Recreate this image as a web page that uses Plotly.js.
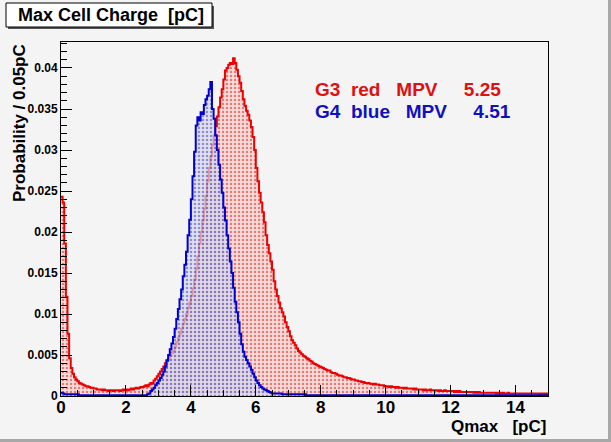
<!DOCTYPE html>
<html>
<head>
<meta charset="utf-8">
<script src="https://cdn.plot.ly/plotly-3.0.1.min.js"></script>
<style>
html,body{margin:0;padding:0;background:#f4f4f4;}
#plot{width:611px;height:442px;}
</style>
</head>
<body>
<div id="plot"></div>
<script>
// Histogram bin width (pC)
const binWidth = 0.05;

// G3 (red) probability per 0.05 pC bin, bins starting at 0
const g3Red = [
.0243,.0236,.0186,.0121,.0076,.0046,.0034,.0027,.0023,.0020,
.0018,.0016,.0015,.0014,.0013,.0012,.0012,.0011,.0010,.0010,
.0009,.0009,.0008,.0008,.0008,.0007,.0008,.0007,.0007,.0006,
.0007,.0007,.0006,.0007,.0007,.0007,.0006,.0007,.0008,.0007,
.0008,.0007,.0008,.0009,.0008,.0009,.0010,.0009,.0010,.0011,
.0011,.0012,.0013,.0012,.0014,.0016,.0015,.0019,.0021,.0024,
.0027,.0030,.0033,.0036,.0040,.0044,.0046,.0049,.0052,.0055,
.0060,.0066,.0071,.0076,.0082,.0088,.0094,.0100,.0107,.0114,
.0122,.0131,.0142,.0155,.0170,.0186,.0200,.0214,.0228,.0244,
.0262,.0278,.0292,.0306,.0318,.0329,.0341,.0352,.0364,.0374,
.0386,.0397,.0400,.0404,.0406,.0405,.0412,.0406,.0398,.0390,
.0382,.0372,.0362,.0354,.0348,.0343,.0336,.0328,.0316,.0300,
.0278,.0262,.0248,.0236,.0224,.0212,.0196,.0184,.0174,.0164,
.0154,.0140,.0130,.0122,.0114,.0107,.0102,.0097,.0090,.0084,
.0079,.0073,.0068,.0065,.0062,.0058,.0055,.0053,.0051,.0049,
.0048,.0046,.0045,.0043,.0042,.0040,.0039,.0038,.0037,.0036,
.0035,.0034,.0033,.0032,.0031,.0031,.0029,.0028,.0028,.0027,
.0026,.0025,.0025,.0024,.0023,.0023,.0022,.0022,.0021,.0020,
.0020,.0019,.0019,.0018,.0018,.0017,.0017,.0016,.0016,.0016,
.0015,.0015,.0014,.0015,.0014,.0014,.0013,.0013,.0013,.0012,
.0012,.0012,.0011,.0012,.0011,.0011,.0010,.0011,.0010,.0010,
.0010,.0009,.0010,.0009,.0009,.0009,.0009,.0008,.0009,.0008,
.0008,.0008,.0008,.0007,.0008,.0007,.0007,.0008,.0007,.0007,
.0007,.0007,.0006,.0007,.0006,.0006,.0007,.0006,.0006,.0006,
.0006,.0006,.0005,.0006,.0005,.0006,.0005,.0005,.0005,.0005,
.0005,.0005,.0005,.0005,.0004,.0005,.0004,.0005,.0004,.0004,
.0004,.0004,.0004,.0004,.0004,.0004,.0004,.0004,.0003,.0004,
.0004,.0003,.0004,.0003,.0003,.0004,.0003,.0003,.0003,.0003,
.0003,.0003,.0003,.0003,.0003,.0003,.0003,.0003,.0003,.0003,
.0003,.0003,.0003,.0003,.0003,.0002,.0003,.0003,.0002,.0003
];

// G4 (blue) probability per 0.05 pC bin, bins starting at 0
const g4Blue = [
.0004,.0003,.0002,.0002,.0002,.0002,.0002,.0002,.0002,.0002,
.0002,.0001,.0001,.0001,.0001,.0001,.0001,.0001,.0001,.0001,
.0001,.0001,.0001,.0001,.0001,.0001,.0001,.0001,.0001,.0001,
.0001,.0001,.0001,.0001,.0001,.0001,.0001,.0001,.0001,.0001,
.0001,.0001,.0001,.0001,.0001,.0001,.0001,.0001,.0001,.0001,
.0001,.0001,.0001,.0002,.0003,.0006,.0008,.0010,.0013,.0016,
.0019,.0022,.0026,.0030,.0036,.0043,.0050,.0057,.0064,.0072,
.0082,.0094,.0106,.0118,.0130,.0146,.0160,.0176,.0196,.0215,
.0240,.0268,.0298,.0330,.0340,.0336,.0346,.0344,.0355,.0362,
.0366,.0374,.0383,.0350,.0338,.0318,.0300,.0282,.0264,.0248,
.0230,.0214,.0196,.0180,.0164,.0150,.0132,.0115,.0102,.0090,
.0076,.0063,.0054,.0048,.0044,.0040,.0036,.0032,.0027,.0023,
.0019,.0016,.0013,.0011,.0009,.0008,.0007,.0006,.0005,.0004,
.0003,.0003,.0003,.0003,.0003,.0003,.0002,.0002,.0002,.0002,
.0002,.0002,.0002,.0002,.0002,.0002,.0002,.0002,.0002,.0002,
.0002,.0001,.0001,.0001,.0001,.0001,.0001,.0001,.0001,.0001,
.0001,.0001,.0001,.0001,.0001,.0001,.0001,.0001,.0001,.0001,
.0001,.0001,.0001,.0001,.0001,.0001,.0001,.0001,.0001,.0001,
.0001,.0001,.0001,.0001,.0001,.0001,.0001,.0001,.0001,.0001,
.0001,.0001,.0001,.0001,.0001,.0001,.0001,.0001,.0001,.0001,
.0001,.0001,.0001,.0001,.0001,.0001,.0001,.0001,.0001,.0001,
.0001,.0001,.0001,.0001,.0001,.0001,.0001,.0001,.0001,.0001,
.0001,.0001,.0001,.0001,.0001,.0001,.0001,.0001,.0001,.0001,
.0001,.0001,.0001,.0001,.0001,.0001,.0001,.0001,.0001,.0001,
.0001,.0001,.0001,.0001,.0001,.0001,.0001,.0001,.0001,.0001,
.0001,.0001,.0001,.0001,.0001,.0001,.0001,.0001,.0001,.0001,
.0001,.0001,.0001,.0001,.0001,.0001,.0001,.0001,.0001,.0001,
.0001,.0001,.0001,.0001,.0001,.0001,.0001,.0001,.0001,.0001,
.0001,.0001,.0001,.0001,.0001,.0001,.0001,.0001,.0001,.0001,
.0001,.0001,.0001,.0001,.0001,.0001,.0001,.0001,.0001,.0001
];

const NB = "\u00a0";
const titleText = "Max Cell Charge" + NB + NB + "[pC]";
const xTitleText = "Qmax" + NB + NB + NB + "[pC]";
const yTitleText = "Probability / 0.05pC";
const legendLines = [
  "G3" + NB + NB + "red" + NB + NB + NB + "MPV" + NB.repeat(5) + "5.25",
  "G4" + NB + NB + "blue" + NB + NB + NB + "MPV" + NB.repeat(5) + "4.51"
];

function stepXY(vals){
  const x = vals.map((_, i) => +(i*binWidth).toFixed(4));
  const y = vals.slice();
  x.push(+(vals.length*binWidth).toFixed(4));
  y.push(vals[vals.length-1]);
  return {x, y};
}

const r = stepXY(g3Red), b = stepXY(g4Blue);
const FONT = "Liberation Sans, Arial, Helvetica, sans-serif";

const traces = [
 {x:r.x, y:r.y, type:'scatter', mode:'lines', line:{shape:'hv', color:'#ee0000', width:2},
  fill:'tozeroy', fillcolor:'rgba(245,190,190,0.6)',
  fillpattern:{shape:'.', fgcolor:'rgba(215,40,40,0.55)', bgcolor:'rgba(246,205,200,0.6)', size:4, solidity:0.3},
  hoverinfo:'skip', showlegend:false},
 {x:b.x, y:b.y, type:'scatter', mode:'lines', line:{shape:'hv', color:'#0000d0', width:2},
  fill:'tozeroy', fillcolor:'rgba(210,210,235,0.65)',
  fillpattern:{shape:'.', fgcolor:'rgba(40,40,170,0.45)', bgcolor:'rgba(215,215,236,0.7)', size:4, solidity:0.3},
  hoverinfo:'skip', showlegend:false}
];

// pixel helpers for paper coordinates
const L=61, R=548, T=42, B=396;
const px = v => (v-L)/(R-L);
const py = v => (B-v)/(B-T);

const layout = {
  width:611, height:442,
  margin:{l:L, r:611-R, t:T, b:442-B, pad:0},
  paper_bgcolor:'#f4f4f4', plot_bgcolor:'#f4f4f4',
  showlegend:false,
  xaxis:{range:[0,15], autorange:false, dtick:2, tick0:0, ticks:'inside', ticklen:11, tickcolor:'#000', tickwidth:1,
    ticklabelstandoff:-4,
    minor:{dtick:0.5, ticks:'inside', ticklen:6, tickcolor:'#000', tickwidth:1},
    showline:true, linecolor:'#000', linewidth:1, mirror:true, showgrid:false, zeroline:false,
    tickfont:{family:FONT, size:17, color:'#000', weight:'bold'}},
  yaxis:{range:[0,0.04317], autorange:false, dtick:0.005, tick0:0, ticks:'inside', ticklen:11, tickcolor:'#000', tickwidth:1,
    minor:{dtick:0.001, ticks:'inside', ticklen:6, tickcolor:'#000', tickwidth:1},
    showline:true, linecolor:'#000', linewidth:1, mirror:true, showgrid:false, zeroline:false,
    tickfont:{family:FONT, size:12, color:'#000', weight:'bold'}},
  shapes:[
    {type:'rect', xref:'paper', yref:'paper', x0:px(8), x1:px(214), y0:py(6), y1:py(29), fillcolor:'#555', line:{width:0}, layer:'above'},
    {type:'rect', xref:'paper', yref:'paper', x0:px(6), x1:px(212), y0:py(3), y1:py(27), fillcolor:'#ffffff', line:{color:'#000', width:1}, layer:'above'},
    {type:'rect', xref:'paper', yref:'paper', x0:px(608), x1:px(611), y0:py(0), y1:py(442), fillcolor:'#a8a8a8', line:{width:0}},
    {type:'rect', xref:'paper', yref:'paper', x0:px(0), x1:px(611), y0:py(439), y1:py(442), fillcolor:'#a8a8a8', line:{width:0}}
  ],
  annotations:[
    {text:titleText, xref:'paper', yref:'paper', x:px(16), y:py(15), xanchor:'left', yanchor:'middle', showarrow:false,
     font:{family:FONT, size:18, color:'#000', weight:'bold'}},
    {text:yTitleText, xref:'paper', yref:'paper', x:px(19), y:py(42), xanchor:'center', yanchor:'top', textangle:-90, showarrow:false,
     font:{family:FONT, size:17, color:'#000', weight:'bold'}},
    {text:xTitleText, xref:'paper', yref:'paper', x:px(548), y:py(426), xanchor:'right', yanchor:'middle', showarrow:false,
     font:{family:FONT, size:17, color:'#000', weight:'bold'}},
    {text:legendLines[0], xref:'paper', yref:'paper', x:px(313), y:py(89), xanchor:'left', yanchor:'middle', showarrow:false,
     font:{family:FONT, size:19, color:'#e01010', weight:'bold'}},
    {text:legendLines[1], xref:'paper', yref:'paper', x:px(313), y:py(111), xanchor:'left', yanchor:'middle', showarrow:false,
     font:{family:FONT, size:19, color:'#1010c0', weight:'bold'}}
  ]
};

Plotly.newPlot('plot', traces, layout, {staticPlot:true, displayModeBar:false});
</script>
</body>
</html>
